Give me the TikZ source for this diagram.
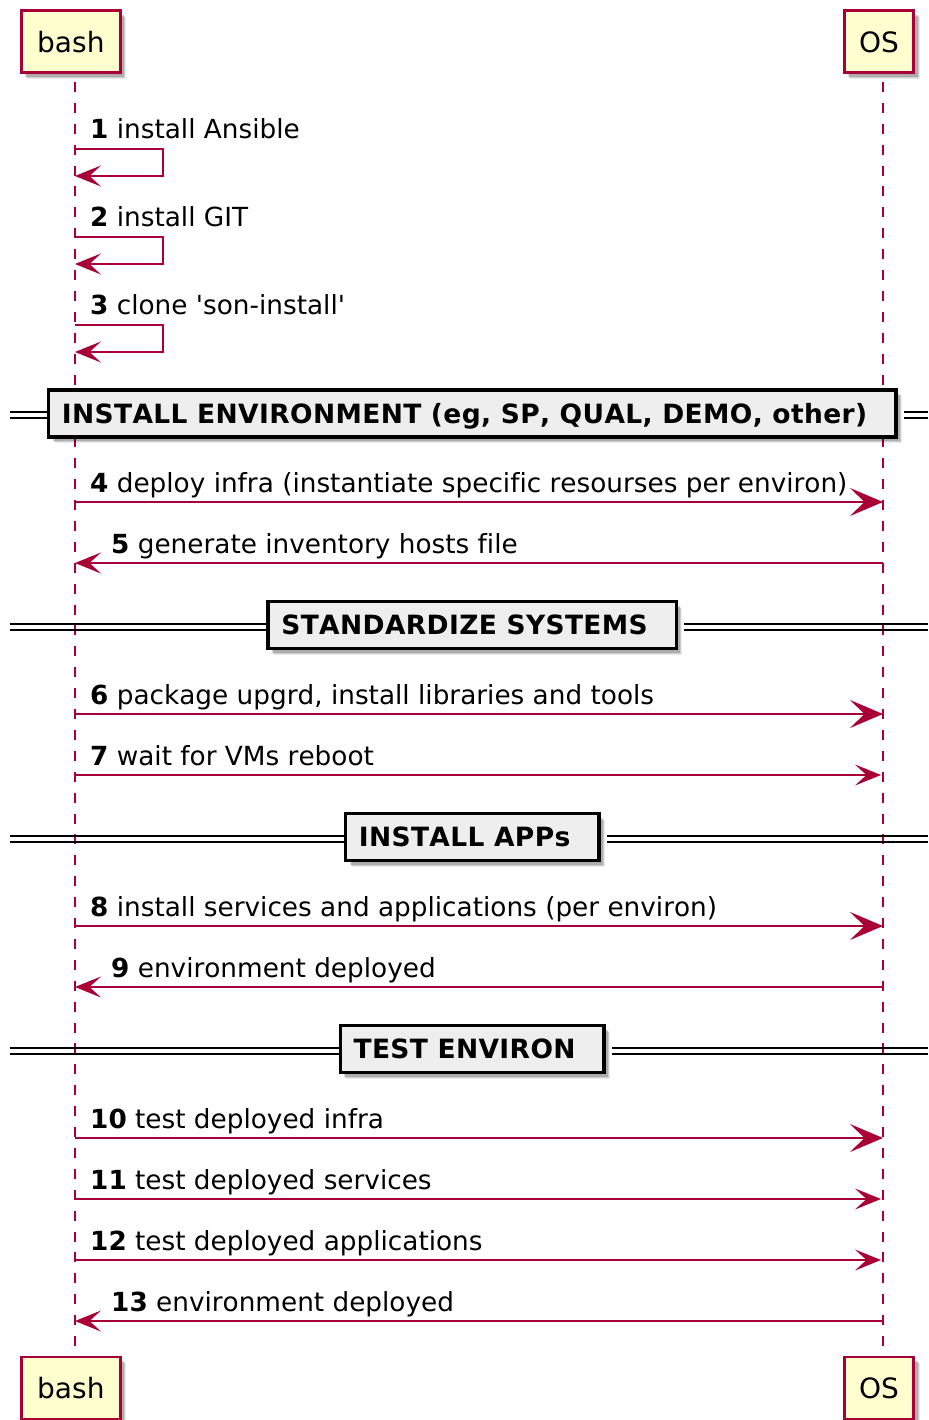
\documentclass[tikz,border=0pt]{standalone}
\usepackage{fontspec}
\setmainfont[Ligatures=NoCommon, Kerning=Off]{DejaVu Sans}
\newfontfamily\sepfont[LetterSpace=1.4, Kerning=Off, Ligatures=NoCommon]{DejaVu Sans}
\usetikzlibrary{arrows.meta,shadows,calc}

\definecolor{umlred}{HTML}{A80036}
\definecolor{umlfill}{HTML}{FEFECE}
\definecolor{divfill}{HTML}{EEEEEE}

% lifeline x positions
\def\bx{75}
\def\ox{883}

% group separator: box with text, double rule on both sides
\newcommand{\sepbar}[3]{%
  \node[divbox] (#1) at (472.2,#2) {\hspace*{13.25pt}#3\hspace*{28.5pt}};
  \draw[divline] (10,#2-1.5) -- ($(#1.west)+(0,-1.5)$);
  \draw[divline] (10,#2+4.5) -- ($(#1.west)+(0,4.5)$);
  \draw[divline] ($(#1.east)+(6,-1.5)$) -- (928,#2-1.5);
  \draw[divline] ($(#1.east)+(6,4.5)$) -- (928,#2+4.5);
}

\tikzset{
  bigtip/.tip={Stealth[length=33pt,width=28pt,inset=14.5pt]},
  smalltip/.tip={Stealth[length=26pt,width=21pt,inset=11.5pt]},
  % soft shadow built from a few offset layers
  softshadow/.style={
    drop shadow={shadow xshift=6pt, shadow yshift=-6pt, fill=black, opacity=0.08},
    drop shadow={shadow xshift=5pt, shadow yshift=-5pt, fill=black, opacity=0.12},
    drop shadow={shadow xshift=4pt, shadow yshift=-4pt, fill=black, opacity=0.16}},
  participant/.style={draw=umlred, line width=2.7pt, fill=umlfill,
    inner xsep=14pt, inner ysep=0pt, minimum height=61.8pt,
    text height=21.9pt, text depth=0pt,
    font=\fontsize{28}{32}\selectfont, softshadow},
  divbox/.style={draw=black, line width=3.5pt, fill=divfill,
    inner xsep=0pt, inner ysep=0pt, minimum height=47pt,
    text height=19.2pt, text depth=0pt,
    font=\sepfont\bfseries\fontsize{26.5}{30}\selectfont, softshadow},
  divline/.style={draw=black, line width=2pt},
  lifeline/.style={draw=umlred, line width=2pt, dash pattern=on 10pt off 10.9pt, dash phase=12.9pt},
  msg/.style={draw=umlred, line width=2pt},
  msgtext/.style={anchor=base west, inner sep=0pt, font=\fontsize{26.3}{30}\selectfont},
}

\begin{document}
\begin{tikzpicture}[x=1pt,y=-1pt]
\useasboundingbox (0,0) rectangle (928,1420);

% lifelines
\coordinate (bTopL) at (\bx,74);
\coordinate (bBotL) at (\bx,1356);
\coordinate (oTopL) at (\ox,74);
\coordinate (oBotL) at (\ox,1356);
\draw[lifeline] (bTopL) -- (bBotL);
\draw[lifeline] (oTopL) -- (oBotL);

% participants
\node[participant, minimum width=99pt] (bashTop) at (70.85,41.75) {bash};
\node[participant, minimum width=69.3pt] (osTop) at (879,41.75) {OS};
\node[participant, minimum width=99pt] (bashBot) at (70.85,1388) {bash};
\node[participant, minimum width=69.3pt] (osBot) at (879,1388) {OS};

% self messages
\coordinate (s1a) at (\bx,149); \coordinate (s1b) at (\bx,176);
\draw[msg,-{smalltip}] (s1a) -- ++(88,0) |- (s1b);
\node[msgtext] (t1) at (90,138.3) {\textbf{1} install Ansible};

\coordinate (s2a) at (\bx,237); \coordinate (s2b) at (\bx,264);
\draw[msg,-{smalltip}] (s2a) -- ++(88,0) |- (s2b);
\node[msgtext] (t2) at (90,226.3) {\textbf{2} install GIT};

\coordinate (s3a) at (\bx,325); \coordinate (s3b) at (\bx,352);
\draw[msg,-{smalltip}] (s3a) -- ++(88,0) |- (s3b);
\node[msgtext] (t3) at (90,314.3) {\textbf{3} clone \textquotesingle son-install\textquotesingle};

% environment install
\sepbar{d1}{413.7}{INSTALL ENVIRONMENT (eg, SP, QUAL, DEMO, other)}

\coordinate (b4) at (\bx,502); \coordinate (o4) at (\ox,502);
\draw[msg,-{bigtip}] (b4) -- (o4);
\node[msgtext] (t4) at (90,492.5) {\textbf{4} deploy infra (instantiate specific resourses per environ)};

\coordinate (b5) at (\bx,563); \coordinate (o5) at (\ox,563);
\draw[msg,-{smalltip}] (o5) -- (b5);
\node[msgtext] (t5) at (111,553) {\textbf{5} generate inventory hosts file};

% system standardisation
\sepbar{d2}{625}{STANDARDIZE SYSTEMS}

\coordinate (b6) at (\bx,714); \coordinate (o6) at (\ox,714);
\draw[msg,-{bigtip}] (b6) -- (o6);
\node[msgtext] (t6) at (90,704.5) {\textbf{6} package upgrd, install libraries and tools};

\coordinate (b7) at (\bx,775); \coordinate (o7) at (\ox,775);
\draw[msg,-{smalltip},shorten >=2pt] (b7) -- (o7);
\node[msgtext] (t7) at (90,765.5) {\textbf{7} wait for VMs reboot};

% applications
\sepbar{d3}{837}{INSTALL APPs}

\coordinate (b8) at (\bx,926); \coordinate (o8) at (\ox,926);
\draw[msg,-{bigtip}] (b8) -- (o8);
\node[msgtext] (t8) at (90,916.5) {\textbf{8} install services and applications (per environ)};

\coordinate (b9) at (\bx,987); \coordinate (o9) at (\ox,987);
\draw[msg,-{smalltip}] (o9) -- (b9);
\node[msgtext] (t9) at (111,977) {\textbf{9} environment deployed};

% tests
\sepbar{d4}{1049}{TEST ENVIRON}

\coordinate (b10) at (\bx,1138); \coordinate (o10) at (\ox,1138);
\draw[msg,-{bigtip}] (b10) -- (o10);
\node[msgtext] (t10) at (90,1128.5) {\textbf{10} test deployed infra};

\coordinate (b11) at (\bx,1199); \coordinate (o11) at (\ox,1199);
\draw[msg,-{smalltip},shorten >=2pt] (b11) -- (o11);
\node[msgtext] (t11) at (90,1189.5) {\textbf{11} test deployed services};

\coordinate (b12) at (\bx,1260); \coordinate (o12) at (\ox,1260);
\draw[msg,-{smalltip},shorten >=2pt] (b12) -- (o12);
\node[msgtext] (t12) at (90,1250.5) {\textbf{12} test deployed applications};

\coordinate (b13) at (\bx,1321); \coordinate (o13) at (\ox,1321);
\draw[msg,-{smalltip}] (o13) -- (b13);
\node[msgtext] (t13) at (111,1311) {\textbf{13} environment deployed};

\end{tikzpicture}
\end{document}
